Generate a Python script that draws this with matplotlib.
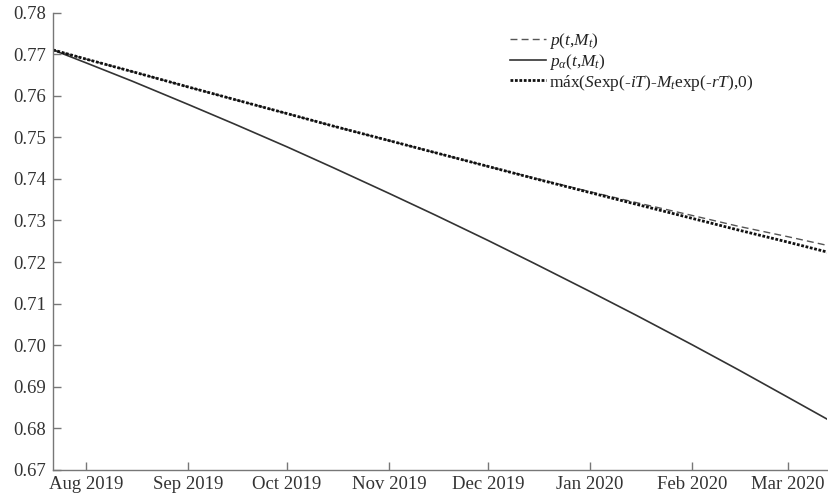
import matplotlib
matplotlib.use("Agg")
import matplotlib.pyplot as plt
import matplotlib.dates as mdates
import pandas as pd

plt.rcParams["font.family"] = ["Liberation Serif", "DejaVu Serif"]
plt.rcParams["mathtext.fontset"] = "custom"
plt.rcParams["mathtext.rm"] = "Liberation Serif"
plt.rcParams["mathtext.it"] = "Liberation Serif:italic"
plt.rcParams["mathtext.bf"] = "Liberation Serif:bold"

# Sampled dates along the valuation path
dates = pd.to_datetime([
    "2019-07-22", "2019-08-01", "2019-08-15", "2019-09-01", "2019-09-15",
    "2019-10-01", "2019-10-15", "2019-11-01", "2019-11-15", "2019-12-01",
    "2019-12-15", "2020-01-01", "2020-01-15", "2020-02-01", "2020-02-15",
    "2020-03-01", "2020-03-13",
])

# p(t, M_t)
p_price = [0.7710, 0.7688, 0.7658, 0.7621, 0.7591, 0.7557, 0.7527, 0.7492,
           0.7463, 0.7430, 0.7402, 0.7369, 0.7343, 0.7312, 0.7286, 0.7261,
           0.7240]
# p_alpha(t, M_t)
p_alpha = [0.7710, 0.7679, 0.7635, 0.7579, 0.7532, 0.7477, 0.7427, 0.7365,
           0.7313, 0.7252, 0.7197, 0.7129, 0.7072, 0.7001, 0.6941, 0.6875,
           0.6822]
# max(S exp(-iT) - M_t exp(-rT), 0)
intrinsic = [0.7710, 0.7688, 0.7658, 0.7621, 0.7591, 0.7557, 0.7527, 0.7492,
             0.7463, 0.7430, 0.7401, 0.7367, 0.7339, 0.7305, 0.7277, 0.7248,
             0.7224]

y_ticks = [0.67, 0.68, 0.69, 0.70, 0.71, 0.72, 0.73, 0.74, 0.75, 0.76, 0.77, 0.78]

label_p = r"$p(t{,}M_t)$"
label_alpha = r"$p_{\alpha}(t{,}M_t)$"
label_max = r"máx($S$exp(-$iT$)-$M_t$exp(-$rT$),0)"

fig = plt.figure(figsize=(8.29, 5.00), dpi=100)
ax = fig.add_axes([0.064, 0.06, 0.934, 0.915])

ax.plot(dates, p_price, linestyle=(0, (5, 3)), color="#555555", linewidth=1.0,
        label=label_p)
ax.plot(dates, p_alpha, linestyle="-", color="#333333", linewidth=1.2,
        label=label_alpha)
ax.plot(dates, intrinsic, linestyle=(0, (1, 0.6)), color="#111111", linewidth=2.0,
        label=label_max)

ax.set_xlim(dates[0], dates[-1])
ax.set_ylim(0.67, 0.78)
ax.set_yticks(y_ticks)
ax.yaxis.set_major_formatter(matplotlib.ticker.FormatStrFormatter("%.2f"))
ax.xaxis.set_major_locator(mdates.MonthLocator())
ax.xaxis.set_major_formatter(mdates.DateFormatter("%b %Y"))

for side in ("top", "right"):
    ax.spines[side].set_visible(False)
for side in ("left", "bottom"):
    ax.spines[side].set_color("#777777")
    ax.spines[side].set_linewidth(1.0)

ax.tick_params(axis="both", direction="in", length=6, width=1.0,
               colors="#777777", labelcolor="#333333", labelsize=13.5)
ax.tick_params(axis="x", pad=4)
ax.tick_params(axis="y", pad=5)

leg = ax.legend(loc="upper left", bbox_to_anchor=(0.59, 0.96), frameon=False,
                fontsize=12.5, handlelength=2.1, handletextpad=0.15,
                labelspacing=0.05, borderaxespad=0.0, borderpad=0.0)
for txt in leg.get_texts():
    txt.set_color("#222222")

fig.savefig("out.png", dpi=100)
